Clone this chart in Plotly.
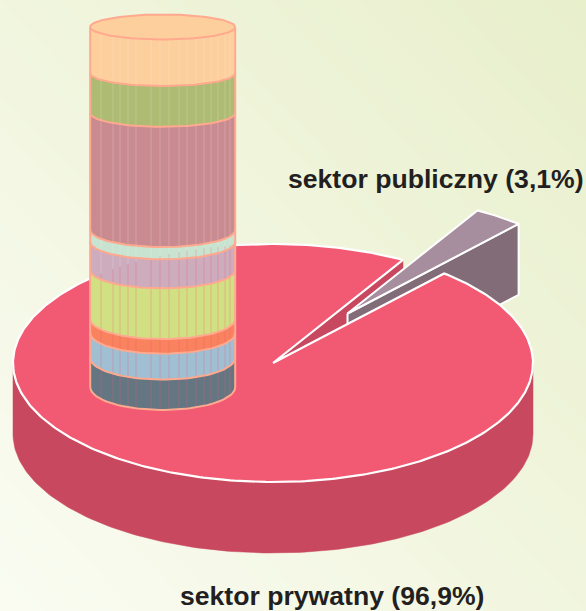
import math
import plotly.graph_objects as go

# ---- data ----
sector_labels = ["sektor prywatny (96,9%)", "sektor publiczny (3,1%)"]
sector_shares = [96.9, 3.1]
stack_shares = [12.8, 11.1, 32.5, 3.3, 7.8, 13.6, 3.9, 6.9, 8.1]
stack_colors = ["#FDCF9C", "#AEBB72", "#C98B90", "#C8E3CF", "#CDACBE",
                "#D2E084", "#F9825F", "#A0BFD2", "#647682"]

# ---- styling / geometry ----
W, H = 586, 611
CX, CY, RX, RY, DEPTH = 273, 363, 260, 119, 71
START = 60.0
DX, DY = 74.5, -49.5
TOP_C, SIDE_C = "#F25A73", "#C8485F"
W_TOP, W_SIDE = "#A68E9E", "#826C77"
CYL_X, CYL_RX, CYL_TOP, CYL_H = 162.7, 72.5, 27, 360
STROKE = "#FFA98F"
STRIPES = [101, 113, 120, 128, 136, 151, 160, 169, 179, 187, 196, 204, 211, 218, 225, 230]
TEXT_C = "#231F20"
FONT = "Liberation Sans, Arial, sans-serif"


def pt(t, ox=0, oy=0):
    r = math.radians(t)
    return CX + RX * math.cos(r) + ox, CY - RY * math.sin(r) + oy


def arc(a, b, ox=0, oy=0, n=160):
    return [pt(a + (b - a) * i / n, ox, oy) for i in range(n + 1)]


def poly(points, fill, line=None, lw=2):
    xs = [p[0] for p in points] + [points[0][0]]
    ys = [p[1] for p in points] + [points[0][1]]
    return go.Scatter(x=xs, y=ys, mode="lines", fill="toself", fillcolor=fill,
                      line=dict(color=line or fill, width=lw if line else 0.5),
                      hoverinfo="skip", showlegend=False)


def seg(x0, y0, x1, y1, color, lw=1.0):
    return go.Scatter(x=[x0, x1], y=[y0, y1], mode="lines",
                      line=dict(color=color, width=lw), hoverinfo="skip", showlegend=False)


fig = go.Figure()

# background gradient
gx = [W * i / 12 for i in range(13)]
gy = [H * i / 12 for i in range(13)]
gz = [[(x / W + 1 - y / H) / 2 for x in gx] for y in gy]
fig.add_trace(go.Heatmap(x=gx, y=gy, z=gz, zmin=0, zmax=1, zsmooth="best", showscale=False,
                         colorscale=[[0, "#FAFCF2"], [1, "#E8EFCB"]], hoverinfo="skip"))

# pie geometry from shares
sweep = 360 * sector_shares[1] / sum(sector_shares)
A_HI, A_LO = START, START - sweep

# side of the main slice
front = arc(180, 360)
fig.add_trace(poly(front + [(x, y + DEPTH) for x, y in reversed(front)], SIDE_C))
# inner wall of the notch
p_hi = pt(A_HI)
fig.add_trace(poly([(CX, CY), p_hi, (p_hi[0], p_hi[1] + DEPTH), (CX, CY + DEPTH)], SIDE_C))

# exploded slice
apex = (CX + DX, CY + DY)
p_lo = pt(A_LO, DX, DY)
fig.add_trace(poly([apex, p_lo, (p_lo[0], p_lo[1] + DEPTH), (apex[0], apex[1] + DEPTH)],
                   W_SIDE, "white", 2))
fig.add_trace(poly([apex] + arc(A_LO, A_HI, DX, DY, 30), W_TOP, "white", 2))

# main top face
fig.add_trace(poly([(CX, CY)] + arc(A_LO, A_HI - 360, 0, 0, 400), TOP_C, "white", 2.2))


# cylinder
def depth_at(y):
    return 12.5 + 10.5 * (max(0.0, y - CYL_TOP) / CYL_H) ** 1.5


def band(y):
    d = depth_at(y)
    return [(CYL_X + CYL_RX * math.cos(math.radians(t)),
             y + d * math.sin(math.radians(t))) for t in range(180, -1, -4)]


total = sum(stack_shares)
edges = [CYL_TOP]
for v in stack_shares:
    edges.append(edges[-1] + CYL_H * v / total)

for i, color in enumerate(stack_colors):
    fig.add_trace(poly(band(edges[i]) + list(reversed(band(edges[i + 1]))), color))

# stripes: see-through gaps in the cylinder skin
for sx in STRIPES:
    u = (sx - CX) / RX
    pie_edge = CY - RY * math.sqrt(max(0, 1 - u * u))
    c = (sx - CYL_X) / CYL_RX
    root = math.sqrt(max(0, 1 - c * c))
    y_start = CYL_TOP + depth_at(CYL_TOP) * root
    y_end = edges[-1] + depth_at(edges[-1]) * root
    fig.add_trace(seg(sx, y_start, sx, pie_edge, "rgba(255,255,255,0.2)"))
    fig.add_trace(seg(sx, pie_edge, sx, y_end, "rgba(242,90,115,0.3)"))

# outlines
for y in edges[1:]:
    b = band(y)
    fig.add_trace(go.Scatter(x=[p[0] for p in b], y=[p[1] for p in b], mode="lines",
                             line=dict(color=STROKE, width=2), hoverinfo="skip", showlegend=False))
d0 = depth_at(CYL_TOP)
fig.add_trace(seg(CYL_X - CYL_RX, CYL_TOP, CYL_X - CYL_RX, edges[-1], STROKE, 2))
fig.add_trace(seg(CYL_X + CYL_RX, CYL_TOP, CYL_X + CYL_RX, edges[-1], STROKE, 2))
top_ring = [(CYL_X + CYL_RX * math.cos(math.radians(t)),
             CYL_TOP + d0 * math.sin(math.radians(t))) for t in range(0, 361, 4)]
fig.add_trace(poly(top_ring, stack_colors[0], STROKE, 2))

fig.add_annotation(x=179, y=595.5, xanchor="left", yanchor="middle", text=f"<b>{sector_labels[0]}</b>",
                   showarrow=False, borderpad=0, font=dict(family=FONT, size=26.6, color=TEXT_C))
fig.add_annotation(x=287, y=179, xanchor="left", yanchor="middle", text=f"<b>{sector_labels[1]}</b>",
                   showarrow=False, borderpad=0, font=dict(family=FONT, size=26.6, color=TEXT_C))

fig.update_layout(width=W, height=H, margin=dict(l=0, r=0, t=0, b=0), showlegend=False,
                  paper_bgcolor="#F2F6DF", plot_bgcolor="#F2F6DF",
                  xaxis=dict(range=[0, W], visible=False, fixedrange=True),
                  yaxis=dict(range=[H, 0], visible=False, fixedrange=True))
fig.write_html("out.html", config={"displayModeBar": False},
               post_script="document.body.style.margin='0';document.documentElement.style.overflow='hidden';")
